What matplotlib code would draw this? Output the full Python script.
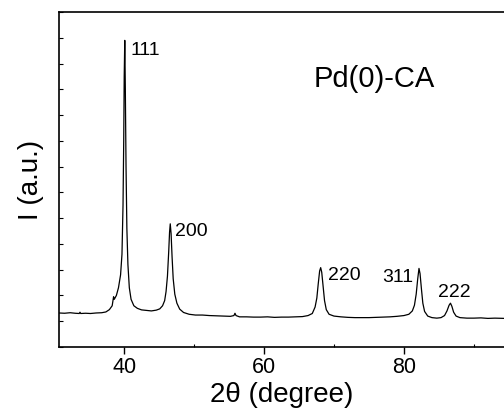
import numpy as np
import matplotlib
matplotlib.use("Agg")
import matplotlib.pyplot as plt
from matplotlib.ticker import MultipleLocator

plt.rcParams['font.family'] = ['Liberation Sans', 'DejaVu Sans']

# XRD pattern (2theta, intensity in a.u.)
two_theta = [30.7, 31.5, 32.3, 33.0, 33.6, 33.7, 33.8, 34.5, 35.2, 36.0, 36.8, 37.4, 37.9,
             38.3, 38.5, 38.6, 38.9, 39.2, 39.5, 39.7, 39.85, 39.95, 40.02, 40.1, 40.18,
             40.28, 40.4, 40.55, 40.75, 41.0, 41.4, 41.9, 42.5, 43.2, 43.9, 44.6, 45.1,
             45.5, 45.8, 46.0, 46.2, 46.38, 46.5, 46.6, 46.72, 46.86, 47.02, 47.25, 47.55,
             47.95, 48.5, 49.3, 50.2, 51.2, 52.2, 53.2, 54.2, 55.2, 55.7, 55.85, 56.0, 56.5,
             57.5, 58.5, 59.5, 60.5, 61.5, 62.5, 63.5, 64.5, 65.5, 66.3, 66.9, 67.3, 67.55,
             67.75, 67.95, 68.1, 68.25, 68.45, 68.65, 68.9, 69.3, 70.0, 71.0, 72.0, 73.0,
             74.0, 75.0, 76.0, 77.0, 78.0, 79.0, 80.0, 80.7, 81.2, 81.5, 81.75, 81.97,
             82.15, 82.3, 82.5, 82.7, 82.95, 83.4, 84.0, 84.7, 85.3, 85.8, 86.15, 86.45,
             86.65, 86.85, 87.1, 87.45, 88.0, 89.0, 90.0, 91.0, 92.0, 93.0, 94.4]
intensity = [1.32, 1.31, 1.33, 1.31, 1.30, 1.35, 1.30, 1.31, 1.30, 1.32, 1.33, 1.36, 1.45,
             1.60, 1.95, 1.85, 2.00, 2.30, 2.80, 3.60, 5.50, 8.00, 10.50, 11.90, 10.00,
             7.00, 4.60, 3.20, 2.30, 1.85, 1.60, 1.50, 1.44, 1.42, 1.40, 1.43, 1.48,
             1.60, 1.80, 2.15, 2.75, 3.70, 4.45, 4.78, 4.40, 3.50, 2.65, 2.05, 1.70,
             1.47, 1.34, 1.27, 1.24, 1.24, 1.22, 1.21, 1.20, 1.19, 1.22, 1.31, 1.22, 1.17,
             1.17, 1.16, 1.16, 1.17, 1.15, 1.16, 1.16, 1.17, 1.18, 1.22, 1.30, 1.55, 1.90,
             2.45, 2.95, 3.08, 2.90, 2.35, 1.80, 1.45, 1.27, 1.20, 1.17, 1.15, 1.14,
             1.14, 1.14, 1.15, 1.16, 1.17, 1.19, 1.22, 1.27, 1.40, 1.62, 2.05, 2.65,
             3.05, 2.85, 2.25, 1.70, 1.38, 1.20, 1.14, 1.12, 1.14, 1.22, 1.40, 1.62,
             1.70, 1.58, 1.35, 1.20, 1.14, 1.12, 1.12, 1.13, 1.11, 1.12, 1.11]

# reflection labels
hkl = ['111', '200', '220', '311', '222']
hkl_x = [40.86, 47.29, 69.19, 81.33, 84.9]
hkl_y = [11.52, 4.47, 2.79, 2.70, 2.11]
hkl_ha = ['left', 'left', 'left', 'right', 'left']

fig = plt.figure(figsize=(5.04, 4.12), dpi=100)
ax = fig.add_axes([59 / 504, 65 / 412, 1 - 59 / 504, 335 / 412])

ax.plot(two_theta, intensity, color='black', lw=0.9)

for lab, x, y, ha in zip(hkl, hkl_x, hkl_y, hkl_ha):
    ax.text(x, y, lab, fontsize=14, ha=ha, va='center')
ax.text(67.04, 10.39, 'Pd(0)-CA', fontsize=21, ha='left', va='center')

ax.set_xlim(30.7, 94.3)
ax.set_ylim(0, 13)
ax.spines['right'].set_visible(False)
for s in ax.spines.values():
    s.set_linewidth(1.2)

ax.xaxis.set_major_locator(MultipleLocator(20))
ax.xaxis.set_minor_locator(MultipleLocator(10))
ax.yaxis.set_major_locator(MultipleLocator(1))
ax.tick_params(axis='x', which='major', direction='out', length=5, width=1,
               labelsize=15.5, pad=2)
ax.tick_params(axis='x', which='minor', direction='in', length=2, width=0.8)
ax.tick_params(axis='y', which='major', direction='in', length=3, width=0.8,
               labelleft=False)

ax.set_xlabel('2θ (degree)', fontsize=20, labelpad=3)
ax.set_ylabel('I (a.u.)', fontsize=20, labelpad=11)

fig.savefig('out.png', dpi=100)
